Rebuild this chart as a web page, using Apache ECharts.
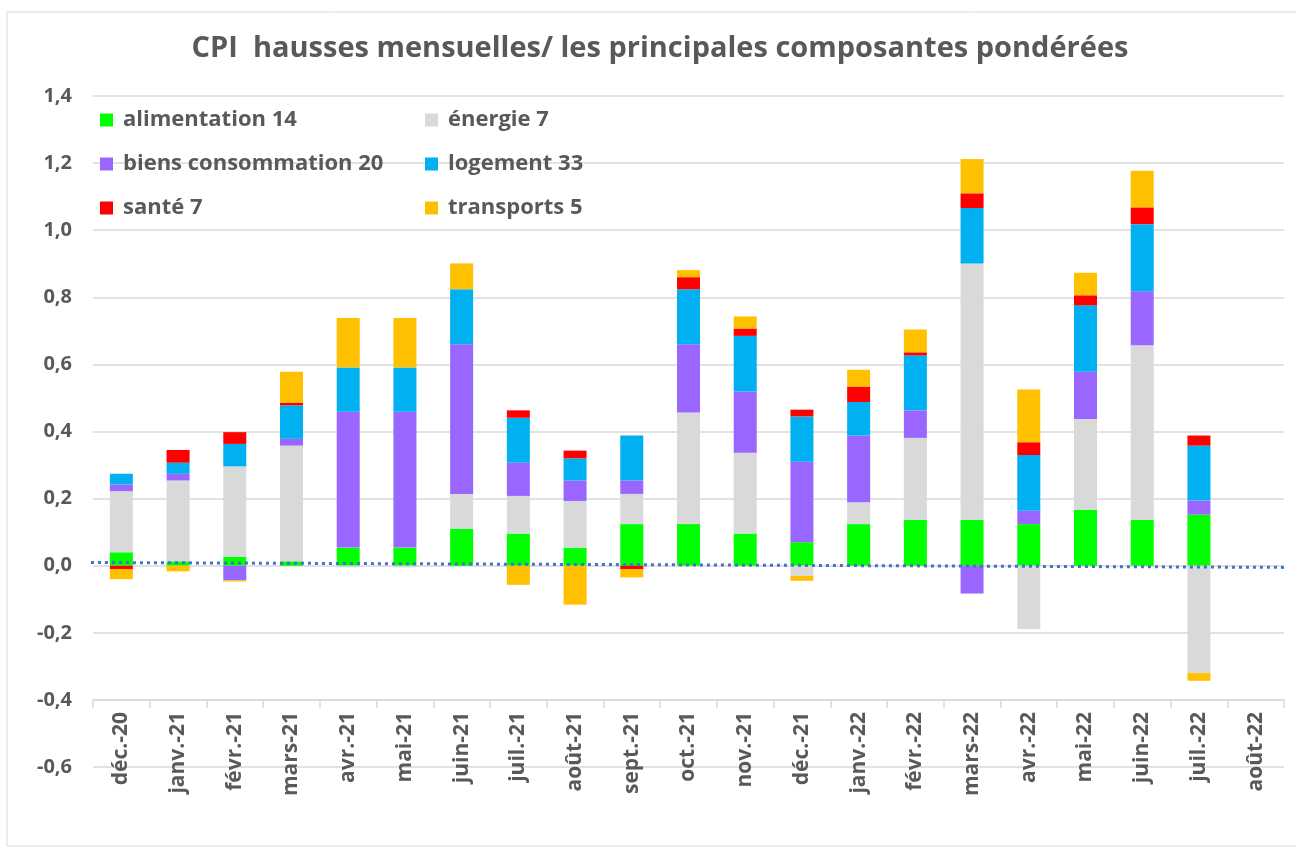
<!DOCTYPE html>
<html>
<head>
<meta charset="utf-8">
<script src="https://cdn.jsdelivr.net/npm/echarts@6/dist/echarts.min.js"></script>
<style>
  html, body { margin: 0; padding: 0; background: #fff; }
  #chart { width: 1296px; height: 850px; }
</style>
</head>
<body>
<div id="chart"></div>
<script>
// mois
var categories = ['déc.-20', 'janv.-21', 'févr.-21', 'mars-21', 'avr.-21', 'mai-21', 'juin-21',
  'juil.-21', 'août-21', 'sept.-21', 'oct.-21', 'nov.-21', 'déc.-21', 'janv.-22', 'févr.-22',
  'mars-22', 'avr.-22', 'mai-22', 'juin-22', 'juil.-22', 'août-22'];

// contributions pondérées
var alimentation = [0.040, 0.013, 0.027, 0.013, 0.054, 0.054, 0.110, 0.096, 0.054, 0.124, 0.124,
  0.096, 0.070, 0.124, 0.137, 0.137, 0.124, 0.167, 0.137, 0.152, null];
var energie = [0.182, 0.241, 0.269, 0.345, -0.005, -0.005, 0.104, 0.112, 0.139, 0.090, 0.333,
  0.241, -0.030, 0.065, 0.244, 0.764, -0.189, 0.270, 0.520, -0.320, null];
var biens = [0.020, 0.020, -0.043, 0.020, 0.405, 0.405, 0.446, 0.099, 0.061, 0.040, 0.203,
  0.182, 0.240, 0.199, 0.082, -0.083, 0.040, 0.141, 0.161, 0.042, null];
var logement = [0.032, 0.033, 0.067, 0.100, 0.132, 0.132, 0.164, 0.134, 0.066, 0.134, 0.164,
  0.166, 0.135, 0.100, 0.164, 0.165, 0.166, 0.198, 0.200, 0.164, null];
var sante = [-0.010, 0.038, 0.035, 0.008, 0, 0, 0, 0.022, 0.023, -0.010, 0.036,
  0.022, 0.020, 0.046, 0.009, 0.044, 0.038, 0.030, 0.050, 0.030, null];
var transports = [-0.030, -0.017, -0.004, 0.092, 0.147, 0.147, 0.077, -0.057, -0.116, -0.025, 0.021,
  0.036, -0.015, 0.050, 0.068, 0.102, 0.157, 0.067, 0.109, -0.023, null];

// tendance linéaire (position en catégories, valeur)
var trendX = [-1.03, 20.5];
var trendY = [0.010, -0.005];

var names = ['alimentation 14', 'énergie 7', 'biens consommation 20', 'logement 33', 'santé 7', 'transports 5'];
var colors = ['#00FF00', '#D9D9D9', '#9966FF', '#00B0F0', '#FF0000', '#FFC000'];
var values = [alimentation, energie, biens, logement, sante, transports];

var textColor = '#595959';
var fontFamily = '"Open Sans", sans-serif';

var chart = echarts.init(document.getElementById('chart'));

var series = values.map(function (v, i) {
  return {
    name: names[i],
    type: 'bar',
    stack: 'cpi',
    barWidth: 23,
    itemStyle: { color: colors[i] },
    data: v
  };
});
series.push({
  name: 'tendance',
  type: 'line',
  xAxisIndex: 1,
  clip: false,
  symbol: 'none',
  lineStyle: { color: '#4472C4', width: 3, type: [3, 4] },
  data: trendX.map(function (x, i) { return [x, trendY[i]]; })
});

var legendText = { color: textColor, fontSize: 22, fontWeight: 'bold', fontFamily: fontFamily, lineHeight: 24, padding: [0, 0, 0, 5] };

chart.setOption({
  animation: false,
  title: {
    text: 'CPI  hausses mensuelles/ les principales composantes pondérées',
    left: 655,
    textAlign: 'center',
    top: 29,
    textStyle: { color: textColor, fontSize: 29, fontWeight: 'bold', fontFamily: fontFamily }
  },
  legend: [
    {
      data: [names[0], names[2], names[4]],
      orient: 'vertical',
      left: 95, top: 103,
      icon: 'rect', itemWidth: 13, itemHeight: 13, itemGap: 20,
      textStyle: legendText
    },
    {
      data: [names[1], names[3], names[5]],
      orient: 'vertical',
      left: 420, top: 103,
      icon: 'rect', itemWidth: 13, itemHeight: 13, itemGap: 20,
      textStyle: legendText
    }
  ],
  graphic: [{
    type: 'rect',
    shape: { x: 7, y: 12, width: 1300, height: 834 },
    style: { fill: 'none', stroke: '#D9D9D9', lineWidth: 1 },
    silent: true, z: -1
  }],
  grid: { left: 93, right: 12, top: 96, bottom: 83 },
  xAxis: [
    {
      type: 'category',
      data: categories,
      offset: -67,
      axisLine: { onZero: false, lineStyle: { color: '#D9D9D9', width: 1.5 } },
      axisTick: { show: true, length: 8, lineStyle: { color: '#D9D9D9', width: 1.5 } },
      axisLabel: {
        interval: 0, rotate: 90, margin: 12,
        color: textColor, fontSize: 21, fontWeight: 'bold', fontFamily: fontFamily
      }
    },
    {
      type: 'value',
      min: -0.5, max: 20.5,
      show: false
    }
  ],
  yAxis: {
    type: 'value',
    min: -0.6, max: 1.4, interval: 0.2,
    axisLine: { show: false },
    axisTick: { show: false },
    splitLine: { lineStyle: { color: '#D9D9D9', width: 1.5 } },
    axisLabel: {
      margin: 21,
      color: textColor, fontSize: 20, fontWeight: 'bold', fontFamily: fontFamily,
      formatter: function (v) { return v.toFixed(1).replace('.', ','); }
    }
  },
  series: series
});
</script>
</body>
</html>
